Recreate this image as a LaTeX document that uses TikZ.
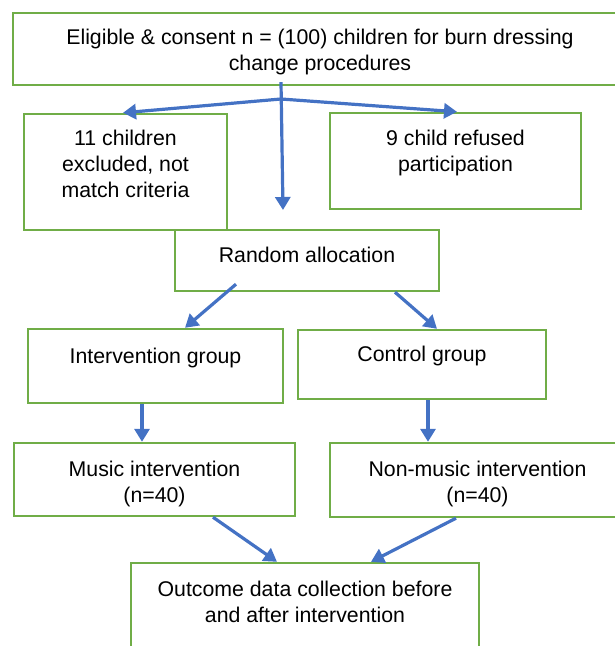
\documentclass[tikz,border=0pt]{standalone}
\usepackage{fontspec}
\setmainfont{Liberation Sans}
\usetikzlibrary{arrows.meta}
\definecolor{boxgreen}{HTML}{70AD47}
\definecolor{arrblue}{HTML}{4472C4}
\newcommand\mylines[1]{\begin{tabular}[t]{@{}c@{}}#1\end{tabular}}
\tikzset{
  box/.style={draw=boxgreen, line width=2.4pt, fill=white, rectangle, inner sep=0pt},
  txt/.style={anchor=base, inner sep=0pt, font=\fontsize{21.3}{26}\selectfont},
  arr/.style={draw=arrblue, line width=3.2pt, -{Triangle[length=13pt,width=15pt]}},
}
\begin{document}
\begin{tikzpicture}[x=1pt,y=-1pt]
\useasboundingbox (0,0) rectangle (615,646);
\clip (0,0) rectangle (615,646);
\renewcommand{\arraystretch}{1}
% boxes
\node[box, minimum width=614pt, minimum height=72pt] (top) at (320,49) {};
\node[box, minimum width=203pt, minimum height=116pt] (left) at (125.5,172) {};
\node[box, minimum width=251pt, minimum height=96pt] (right) at (455.5,161) {};
\node[box, minimum width=264pt, minimum height=61pt] (rand) at (307,260.5) {};
\node[box, minimum width=255pt, minimum height=74pt] (intv) at (155.5,366) {};
\node[box, minimum width=248pt, minimum height=69pt] (ctrl) at (422,364.5) {};
\node[box, minimum width=281pt, minimum height=73pt] (music) at (154.5,479.5) {};
\node[box, minimum width=295pt, minimum height=74pt] (nonm) at (477.5,480) {};
\node[box, minimum width=348pt, minimum height=100pt] (outc) at (305,613) {};
% texts
\node[txt] (topT) at (320,44.3) {\mylines{Eligible \& consent n = (100) children for burn dressing\\change procedures}};
\node[txt] (leftT) at (125.5,145) {\mylines{11 children\\excluded, not\\match criteria}};
\node[txt] (rightT) at (455.5,145) {\mylines{9 child refused\\participation}};
\node[txt] (randT) at (307,262.3) {Random allocation};
\node[txt] (intvT) at (155.5,363.3) {Intervention group};
\node[txt] (ctrlT) at (422,361.7) {Control group};
\node[txt] (musicT) at (154.5,476) {\mylines{Music intervention\\(n=40)}};
\node[txt] (nonmT) at (477.5,476) {\mylines{Non-music intervention\\(n=40)}};
\node[txt] (outcT) at (305,596.7) {\mylines{Outcome data collection before\\and after intervention}};
% connectors
\coordinate (split) at (281,99);
\coordinate (tipA) at (283,210);
\draw[arr] ([xshift=-39pt,yshift=4pt]top.south) -- (tipA);
\draw[arr] (split) -- ([xshift=-2.5pt]left.north);
\draw[arr] (split) -- ([xshift=1.5pt]right.north);
\draw[arr] ([xshift=-71pt,yshift=8pt]rand.south) -- ([xshift=29.5pt]intv.north);
\draw[arr] ([xshift=88pt]rand.south) -- ([xshift=15pt]ctrl.north);
\draw[arr] ([xshift=-13.5pt]intv.south) -- ([xshift=-12.5pt]music.north);
\draw[arr] ([xshift=6pt]ctrl.south) -- ([xshift=-49.5pt]nonm.north);
\draw[arr] ([xshift=58.5pt]music.south) -- ([xshift=-28pt]outc.north);
\draw[arr] ([xshift=-21.5pt]nonm.south) -- ([xshift=66pt]outc.north);
\end{tikzpicture}
\end{document}
